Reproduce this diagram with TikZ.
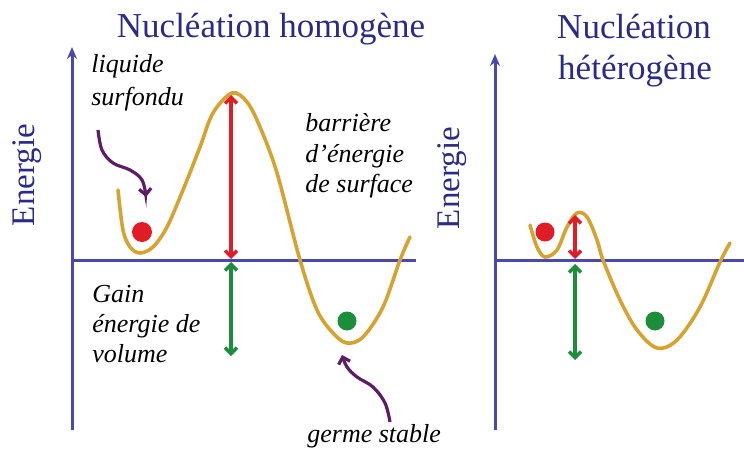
\documentclass[tikz,border=0pt]{standalone}
\usepackage{fontspec}
\setmainfont{Liberation Serif}
\usetikzlibrary{arrows.meta}

\definecolor{bleunuit}{RGB}{42,42,138}
\definecolor{bleuaxe}{RGB}{72,72,175}
\definecolor{ocre}{RGB}{214,162,48}
\definecolor{rouge}{RGB}{226,28,38}
\definecolor{vert}{RGB}{28,142,58}
\definecolor{violet}{RGB}{92,28,104}

\tikzset{every picture/.style={line width=0.75pt}}

\begin{document}
\begin{tikzpicture}[x=1pt,y=1pt,
        axe/.style={bleuaxe, line width=3pt, -{Stealth[length=12pt,width=10pt]}},
        courbe/.style={ocre, line width=3.6pt, line cap=round},
        ecart/.style={line width=3.4pt, {Straight Barb[length=6pt,width=12pt]}-{Straight Barb[length=6pt,width=12pt]}},
        renvoi/.style={violet, line width=3.2pt, -{Straight Barb[length=6pt,width=12pt]}},
        titre/.style={bleunuit, font=\fontsize{35}{40}\selectfont},
        legende/.style={font=\fontsize{26}{31}\selectfont\itshape, anchor=base west, inner sep=0pt}]
    \useasboundingbox (0,0) rectangle (744,451);
    % nucleation homogene
    \draw[axe] (72,21) -- (72,404);
    \draw[bleuaxe, line width=3pt] (72,191) -- (416,191);
    \node[titre, anchor=base] (titreA) at (271,413) {Nucléation homogène};
    \node[titre, rotate=90, font=\fontsize{33}{38}\selectfont] (energieA) at (27,276) {Energie};
    \draw[courbe] plot[smooth, tension=0.55] coordinates {(118,261) (123,221) (130,204) (140,198) (153,204)
        (167,224) (183,261) (200,304) (213,338) (232,358) (247,349) (260,324) (277,278) (300,191)
        (317,141) (333,118) (347,108) (363,114) (383,144) (400,191) (410,214)};
    \fill[rouge] (142,219) circle (10pt);
    \fill[vert] (347,130) circle (9.5pt);
    \coordinate (sommetA) at (231,356);
    \coordinate (zeroA) at (231,191);
    \coordinate (fondA) at (231,95);
    \draw[ecart, rouge] (sommetA) -- ([yshift=1pt]zeroA);
    \draw[ecart, vert] ([yshift=-2pt]zeroA) -- (fondA);
    \node[legende] (liquide) at (91,378) {liquide};
    \node[legende] (surfondu) at (91,346) {surfondu};
    \node[legende] (barriere) at (305,320) {barrière};
    \node[legende] (denergie) at (305,289) {d’énergie};
    \node[legende] (surface) at (305,259) {de surface};
    \node[legende] (gain) at (92,149) {Gain};
    \node[legende] (energievol) at (92,119) {énergie de};
    \node[legende] (volume) at (92,89) {volume};
    \node[legende] (germe) at (307,9) {germe stable};
    \draw[renvoi] plot[smooth, tension=0.6] coordinates {(98,321) (102,301) (113,288) (130,281) (142,271) (146,254)};
    \draw[renvoi] plot[smooth, tension=0.6] coordinates {(390,29) (385,48) (373,64) (357,74) (347,84) (342,96)};
    % nucleation heterogene
    \draw[axe] (495,21) -- (495,397);
    \draw[bleuaxe, line width=3pt] (495,191) -- (744,191);
    \node[titre, anchor=base] (titreB) at (634,412) {Nucléation};
    \node[titre, anchor=base] (titreC) at (635,371) {hétérogène};
    \node[titre, rotate=90, font=\fontsize{33}{38}\selectfont] (energieB) at (452,273) {Energie};
    \draw[courbe] plot[smooth, tension=0.55] coordinates {(530,226) (537,204) (545,194) (557,201) (567,224)
        (577,238) (587,234) (597,211) (603,191) (620,151) (637,121) (657,103) (677,111) (700,144)
        (720,189) (730,208)};
    \fill[rouge] (545,219) circle (9.5pt);
    \fill[vert] (655,130) circle (9.5pt);
    \coordinate (sommetB) at (575,236);
    \coordinate (zeroB) at (575,191);
    \coordinate (fondB) at (575,91);
    \draw[ecart, rouge] (sommetB) -- ([yshift=1pt]zeroB);
    \draw[ecart, vert] ([yshift=-4pt]zeroB) -- (fondB);
\end{tikzpicture}
\end{document}
